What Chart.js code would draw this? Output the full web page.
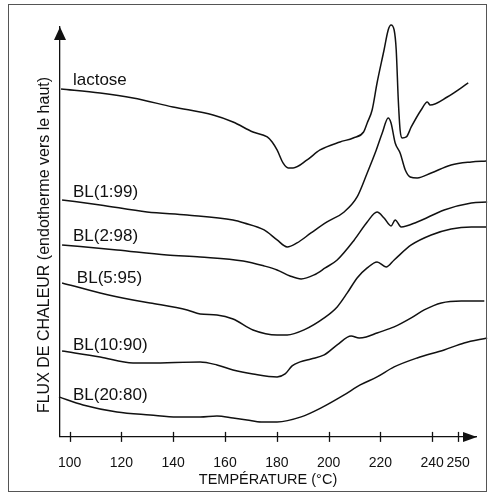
<!DOCTYPE html>
<html lang="fr">
<head>
  <meta charset="UTF-8">
  <title>DSC - lactose / BL</title>
  <script src="https://cdn.jsdelivr.net/npm/chart.js"></script>
  <style>
    body { margin: 0; background: #fff; }
    #wrap { width: 488px; height: 495px; }
  </style>
</head>
<body>
  <div id="wrap"><canvas id="dsc" width="488" height="495"></canvas></div>
  <script>
    // x ticks, temperature in °C
    const tickValues = [100, 120, 140, 160, 180, 200, 220, 240, 250];

    // heat flow, arbitrary units (endotherm up)
    const lactoseT = [96.7, 111.8, 124.5, 139.9, 155.4, 163.1, 170.8, 176.3, 178.2, 180.1, 182.4, 184.4, 186.3, 191.7, 196.7, 204.4, 209.5, 213.5, 214.9, 216.8, 218.7, 221.4, 223.0, 224.1, 225.3, 226.1, 226.9, 227.6, 228.4, 230.0, 231.9, 235.7, 238.1, 239.2, 245.8, 253.9];
    const lactoseF = [348, 344, 339, 330, 322, 315, 305, 300, 295, 287, 274, 269, 269, 277, 287, 295, 299, 305, 314, 327, 354, 387, 407, 412, 407, 387, 337, 307, 299, 300, 310, 327, 335, 332, 340, 354];

    const bl1T = [97.1, 111.8, 129.9, 145.4, 163.1, 167.4, 175.1, 180.1, 184.0, 187.8, 193.2, 199.4, 206.0, 211.0, 214.9, 218.4, 220.7, 223.0, 224.1, 225.7, 227.6, 229.6, 231.5, 234.2, 239.6, 247.3, 255.1, 260.8];
    const bl1F = [237, 232, 225, 222, 217, 214, 207, 197, 190, 194, 204, 215, 225, 240, 264, 287, 304, 319, 314, 294, 284, 267, 260, 259, 264, 272, 275, 276];

    const bl2T = [97.1, 118.3, 137.6, 150.4, 167.0, 175.1, 180.1, 185.1, 189.4, 194.4, 198.7, 203.3, 209.9, 214.9, 218.7, 221.4, 224.1, 225.7, 228.0, 234.2, 244.6, 255.1, 261.2];
    const bl2F = [192, 187, 182, 180, 176, 171, 167, 161, 158, 162, 169, 177, 197, 215, 225, 219, 211, 217, 210, 215, 227, 234, 235];

    const bl5T = [97.1, 111.8, 124.5, 131.1, 145.4, 150.4, 156.9, 163.1, 170.8, 180.1, 184.0, 190.5, 198.3, 203.3, 207.2, 211.0, 214.9, 218.7, 222.2, 225.3, 231.9, 239.6, 247.3, 255.1, 260.8];
    const bl5F = [154, 144, 137, 134, 127, 123, 122, 118, 107, 102, 102, 107, 119, 130, 144, 159, 169, 175, 170, 177, 192, 202, 208, 210, 210];

    const bl10T = [97.1, 111.8, 124.5, 131.1, 150.4, 156.9, 163.1, 170.8, 180.1, 183.2, 185.9, 189.0, 193.2, 198.3, 203.3, 208.7, 211.8, 214.5, 218.7, 225.3, 231.9, 236.9, 243.5, 251.2, 260.1];
    const bl10F = [86, 80, 74, 74, 75, 72, 67, 63, 60, 63, 71, 75, 78, 82, 92, 101, 99, 100, 104, 110, 119, 127, 134, 136, 136];

    const bl20T = [95.9, 105.2, 118.3, 131.1, 141.5, 150.4, 156.9, 163.1, 168.5, 174.0, 180.1, 189.4, 197.1, 206.0, 212.2, 218.7, 225.3, 234.2, 244.6, 252.3, 261.2];
    const bl20F = [40, 32, 25, 22, 20, 20, 21, 19, 17, 15, 15, 20, 29, 42, 52, 60, 70, 79, 87, 94, 99];

    // curve names and where their labels sit (data units)
    const curveNames = ['lactose', 'BL(1:99)', 'BL(2:98)', 'BL(5:95)', 'BL(10:90)', 'BL(20:80)'];
    const labelT = [101.3, 101.3, 101.3, 102.8, 101.3, 101.3];
    const labelF = [357, 245, 201, 159, 92, 42];

    const yTitle = 'FLUX DE CHALEUR (endotherme vers le haut)';

    const FONT = "'Liberation Sans', Arial, sans-serif";
    Chart.defaults.font.family = FONT;
    Chart.defaults.color = '#111';

    function curve(name, T, F) {
      return {
        label: name,
        data: T.map((t, i) => ({ x: t, y: F[i] })),
        borderColor: '#111',
        borderWidth: 1.5,
        pointRadius: 0,
        cubicInterpolationMode: 'monotone',
        clip: false
      };
    }

    // arrows, crossing tick marks, labels and the frame of the scan
    const decor = {
      id: 'decor',
      afterDraw(chart) {
        const ctx = chart.ctx;
        const area = chart.chartArea;
        const xs = chart.scales.x, ys = chart.scales.y;
        ctx.save();
        ctx.strokeStyle = '#111';
        ctx.fillStyle = '#111';
        ctx.lineWidth = 1.3;

        // tick marks go through the axis
        xs.ticks.forEach(t => {
          const px = Math.round(xs.getPixelForValue(t.value)) + 0.5;
          ctx.beginPath();
          ctx.moveTo(px, area.bottom - 5);
          ctx.lineTo(px, area.bottom + 5);
          ctx.stroke();
        });

        // y arrow
        ctx.beginPath();
        ctx.moveTo(area.left, area.top);
        ctx.lineTo(area.left - 6, area.top + 13);
        ctx.lineTo(area.left + 6, area.top + 13);
        ctx.closePath();
        ctx.fill();

        // x arrow
        ctx.beginPath();
        ctx.moveTo(area.right + 1, area.bottom);
        ctx.lineTo(area.right - 13, area.bottom - 5);
        ctx.lineTo(area.right - 13, area.bottom + 5);
        ctx.closePath();
        ctx.fill();

        // y title, sits a bit low like in the scan
        ctx.save();
        ctx.translate(area.left - 15, 245);
        ctx.rotate(-Math.PI / 2);
        ctx.font = '16px ' + FONT;
        ctx.textAlign = 'center';
        ctx.textBaseline = 'middle';
        ctx.fillText(yTitle, 0, 0);
        ctx.restore();

        // curve names
        ctx.font = '17px ' + FONT;
        ctx.textAlign = 'left';
        ctx.textBaseline = 'middle';
        curveNames.forEach((n, i) => {
          ctx.fillText(n, xs.getPixelForValue(labelT[i]), ys.getPixelForValue(labelF[i]));
        });

        // frame
        ctx.strokeStyle = '#555';
        ctx.lineWidth = 1;
        ctx.strokeRect(8.5, 4.5, 478, 487);
        ctx.restore();
      }
    };

    new Chart(document.getElementById('dsc'), {
      type: 'line',
      data: {
        datasets: [
          curve(curveNames[0], lactoseT, lactoseF),
          curve(curveNames[1], bl1T, bl1F),
          curve(curveNames[2], bl2T, bl2F),
          curve(curveNames[3], bl5T, bl5F),
          curve(curveNames[4], bl10T, bl10F),
          curve(curveNames[5], bl20T, bl20F)
        ]
      },
      options: {
        responsive: false,
        animation: false,
        layout: { padding: { left: 60, top: 27, right: 12, bottom: 6.3 } },
        plugins: { legend: { display: false }, tooltip: { enabled: false } },
        scales: {
          x: {
            type: 'linear',
            min: 96.3,
            max: 256.9,
            afterBuildTicks: scale => { scale.ticks = tickValues.map(v => ({ value: v })); },
            grid: { display: true, drawOnChartArea: false, tickLength: 17.6, tickColor: 'rgba(0,0,0,0)' },
            border: { display: true, color: '#111', width: 1.3 },
            ticks: {
              padding: 0,
              autoSkip: false,
              maxRotation: 0,
              font: { size: 14 },
              callback: v => String(v)
            },
            title: {
              display: true,
              text: 'TEMPÉRATURE (°C)',
              font: { size: 14.5 },
              padding: { top: 0, bottom: 0 }
            }
          },
          y: {
            min: 0,
            max: 410,
            grid: { display: false, drawTicks: false },
            border: { display: true, color: '#111', width: 1.3 },
            ticks: { display: false }
          }
        }
      },
      plugins: [decor]
    });
  </script>
</body>
</html>
